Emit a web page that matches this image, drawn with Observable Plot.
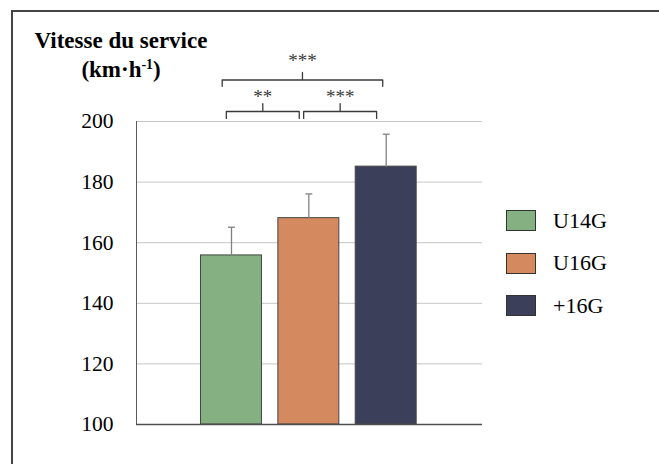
<!DOCTYPE html>
<html>
<head>
<meta charset="utf-8">
<script src="https://cdn.jsdelivr.net/npm/d3@7"></script>
<script src="https://cdn.jsdelivr.net/npm/@observablehq/plot@0.6"></script>
<style>
  html, body { margin: 0; padding: 0; overflow: hidden; background: #fff; }
  #wrap { position: relative; width: 659px; height: 464px; overflow: hidden; font-family: "Liberation Serif", "Times New Roman", serif; }
  #border { position: absolute; left: 11px; top: 10px; width: 800px; height: 600px; border-top: 2px solid #454545; border-left: 2px solid #454545; }
  #title { position: absolute; left: 0; top: 26px; width: 242px; text-align: center; font-weight: bold; font-size: 23px; line-height: 29px; color: #000; }
  #title sup { font-size: 0.6em; line-height: 0; vertical-align: 0.55em; }
  #legend { position: absolute; left: 506px; top: 210px; }
  .row { display: flex; align-items: center; height: 21px; margin-bottom: 21.5px; }
  .sw { width: 28px; height: 19px; border: 1px solid #333; box-sizing: content-box; }
  .lab { margin-left: 17px; font-size: 22px; color: #000; line-height: 1; }
  #chart { position: absolute; left: 0; top: 0; }
</style>
</head>
<body>
<div id="wrap">
  <div id="border"></div>
  <div id="chart"></div>
  <div id="title">Vitesse du service<br>(km·h<sup>-1</sup>)</div>
  <div id="legend"></div>
</div>
<script>
// ---- data ----
const groups = ["U14G", "U16G", "+16G"];
const means = [155.8, 168.1, 185.1];
const sds = [9.3, 8.0, 10.7];
const colors = ["#85b082", "#d4895e", "#3b3f59"];
const yTicks = [100, 120, 140, 160, 180, 200];
const bracketFrom = [0, 1, 0];
const bracketTo = [1, 2, 2];
const bracketLabels = ["**", "***", "***"];
const bracketLevels = [1, 1, 2];

// ---- derived tables ----
const barHalf = 0.394;
const capHalf = 0.045;
const bars = groups.map((g, i) => ({group: g, i, mean: means[i], sd: sds[i], top: means[i] + sds[i]}));

// bracket geometry (data units)
const levelGeom = {
  1: {bar: 203.3, end: 201.0, tip: 205.9, text: 208.2, a: -0.067, b: -0.124},
  2: {bar: 213.7, end: 211.6, tip: 216.2, text: 219.9, a: -0.12, b: -0.045}
};
const bracketPts = [];
const bracketTexts = [];
bracketLabels.forEach((lab, k) => {
  const L = levelGeom[bracketLevels[k]];
  const x1 = bracketFrom[k] + L.a;
  const x2 = bracketTo[k] + L.b;
  const xc = (x1 + x2) / 2;
  [[x1, L.end], [x1, L.bar], [xc, L.bar], [xc, L.tip], [xc, L.bar], [x2, L.bar], [x2, L.end]]
    .forEach(([x, y]) => bracketPts.push({k, x, y}));
  bracketTexts.push({x: xc, y: L.text, label: lab});
});

const xDomain = [-1.228, 3.245];

const plot = Plot.plot({
  width: 659,
  height: 464,
  marginTop: 121,
  marginBottom: 40,
  marginLeft: 136,
  marginRight: 177,
  style: {background: "transparent", fontFamily: "'Liberation Serif', 'Times New Roman', serif", color: "#000", overflow: "visible"},
  x: {type: "linear", domain: xDomain, axis: null},
  y: {domain: [100, 200], axis: null},
  color: {domain: groups, range: colors},
  marks: [
    Plot.ruleY(yTicks.filter(t => t > 100), {stroke: "#c6c6c6", strokeWidth: 1}),
    Plot.ruleX([xDomain[0]], {y1: 100, y2: 200, stroke: "#5a5a5a", strokeWidth: 1}),
    Plot.axisY({ticks: yTicks, tickSize: 0, tickPadding: 23, fontSize: 21.5, label: null, tickFormat: d => String(d)}),
    Plot.rect(bars, {x1: d => d.i - barHalf, x2: d => d.i + barHalf, y1: 100, y2: "mean", fill: "group", stroke: "#444", strokeWidth: 1}),
    Plot.link(bars, {x1: "i", x2: "i", y1: "mean", y2: "top", stroke: "#808080", strokeWidth: 1.3}),
    Plot.link(bars, {x1: d => d.i - capHalf, x2: d => d.i + capHalf, y1: "top", y2: "top", stroke: "#808080", strokeWidth: 1.3}),
    Plot.ruleY([100], {stroke: "#505050", strokeWidth: 1.6}),
    Plot.line(bracketPts, {x: "x", y: "y", z: "k", stroke: "#3a3a3a", strokeWidth: 1.3, curve: "linear"}),
    Plot.text(bracketTexts, {x: "x", y: "y", text: "label", fontSize: 19, fill: "#3a3a3a", lineAnchor: "middle"})
  ]
});
document.getElementById("chart").appendChild(plot);

// ---- legend ----
const leg = document.getElementById("legend");
groups.forEach((g, i) => {
  const row = document.createElement("div");
  row.className = "row";
  const sw = document.createElement("div");
  sw.className = "sw";
  sw.style.background = colors[i];
  const lab = document.createElement("span");
  lab.className = "lab";
  lab.textContent = g;
  row.appendChild(sw);
  row.appendChild(lab);
  leg.appendChild(row);
});
</script>
</body>
</html>
